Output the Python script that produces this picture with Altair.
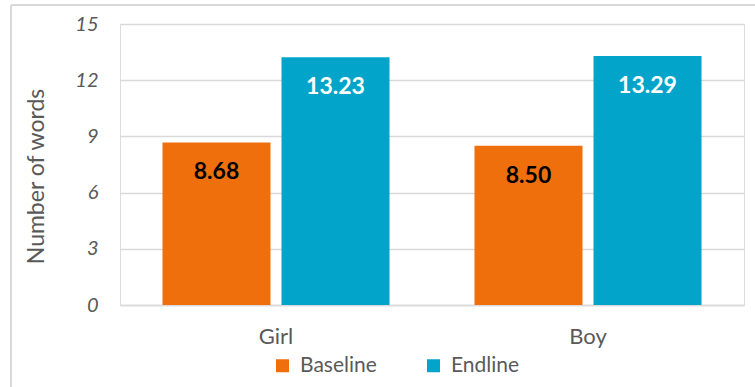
import altair as alt
import pandas as pd

categories = ["Girl", "Girl", "Boy", "Boy"]
series = ["Baseline", "Endline", "Baseline", "Endline"]
values = [8.68, 13.23, 8.50, 13.29]
labels = ["8.68", "13.23", "8.50", "13.29"]

df = pd.DataFrame({"cat": categories, "series": series, "value": values, "label": labels})

FONT = "Lato"
GREY = "#595959"

x_enc = alt.X("cat:N", sort=["Girl", "Boy"], title=None,
              scale=alt.Scale(paddingInner=0, paddingOuter=0),
              axis=alt.Axis(labelFontSize=22, labelColor=GREY, labelFont=FONT,
                            labelPadding=21, ticks=False, domain=True,
                            domainColor="#d9d9d9", domainWidth=1.5, labelAngle=0))
xoff = alt.XOffset("series:N", sort=["Baseline", "Endline"],
                   scale=alt.Scale(paddingInner=0.0924, paddingOuter=0.357))
y_enc = alt.Y("value:Q", title="Number of words",
              scale=alt.Scale(domain=[0, 15], nice=False),
              axis=alt.Axis(values=[0, 3, 6, 9, 12, 15], labelFontSize=20,
                            labelFontStyle="italic", labelColor=GREY, labelFont=FONT,
                            labelPadding=22, ticks=False, domain=False,
                            gridColor="#d9d9d9", gridWidth=1.3,
                            titleFontSize=23, titleFont=FONT, titleColor=GREY,
                            titleFontWeight="normal", titleX=-77, titleY=152,
                            titleBaseline="alphabetic", titleAngle=270))

bars = alt.Chart(df).mark_bar().encode(
    x=x_enc, xOffset=xoff, y=y_enc,
    color=alt.Color("series:N", sort=["Baseline", "Endline"],
                    scale=alt.Scale(domain=["Baseline", "Endline"], range=["#EF6F0D", "#02A4C9"]),
                    legend=alt.Legend(title=None, orient="none", legendX=152, legendY=331,
                                      direction="horizontal", symbolType="square",
                                      symbolSize=169, symbolStrokeWidth=0,
                                      labelFontSize=21, labelColor=GREY, labelFont=FONT,
                                      labelOffset=7, columnPadding=46)),
)

text = alt.Chart(df).mark_text(baseline="middle", dy=30, fontSize=23, fontWeight="bold", font=FONT).encode(
    x=alt.X("cat:N", sort=["Girl", "Boy"]), xOffset=xoff, y="value:Q", text="label:N",
    color=alt.condition(alt.datum.series == "Baseline", alt.value("black"), alt.value("white")),
)

border_left = alt.Chart(df).mark_rule(color="#d9d9d9", strokeWidth=1.5).encode(
    x=alt.value(-109), y=alt.value(-19), y2=alt.value(370))
border_top = alt.Chart(df).mark_rule(color="#d9d9d9", strokeWidth=1.5).encode(
    x=alt.value(-109), x2=alt.value(640), y=alt.value(-19))

chart = alt.layer(bars, text, border_left, border_top).properties(
    width=624, height=281,
    padding={"left": 120, "top": 24, "right": 11, "bottom": 82},
    autosize=alt.AutoSizeParams(type="none"),
).configure_view(stroke=None).configure(font=FONT)

chart.save("out.html", embed_options={"renderer": "svg", "actions": False})
